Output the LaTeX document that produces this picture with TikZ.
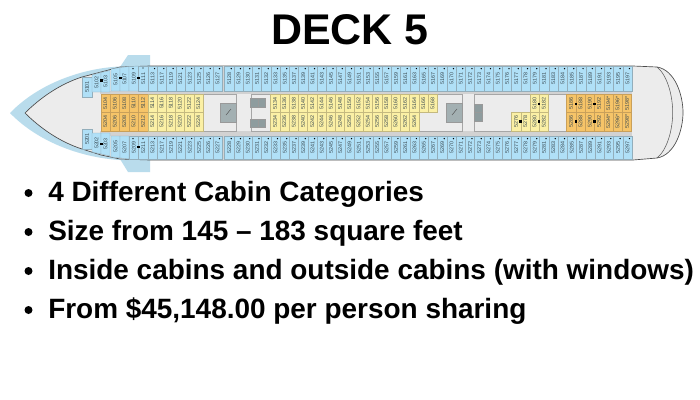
\documentclass[tikz,border=0pt]{standalone}
\usepackage{fontspec}
\setmainfont{Liberation Sans}
\definecolor{cabblue}{HTML}{B0E0F7}
\definecolor{wing}{HTML}{B9DCEC}
\definecolor{floorg}{HTML}{ECECEC}
\definecolor{strip}{HTML}{D2D2D2}
\definecolor{cabyel}{HTML}{FBF0A5}
\definecolor{cabora}{HTML}{F6C468}
\definecolor{edgeb}{HTML}{93AEBB}
\definecolor{edgey}{HTML}{C4B97F}
\definecolor{edgeo}{HTML}{C9A05A}
\definecolor{boxg}{HTML}{A3B0B2}
\definecolor{liftg}{HTML}{8E9C9E}
\definecolor{lbl}{HTML}{3A4A52}
\tikzset{
  cabbase/.style={line width=0.3pt},
  cablabel/.style={font=\fontsize{4}{4}\selectfont,text=lbl,rotate=90,inner sep=0pt},
  bullettext/.style={font=\bfseries\fontsize{20.95}{24}\selectfont,anchor=base west,inner sep=0pt,text=black},
  bulletdot/.style={circle,fill=black,inner sep=0pt,minimum size=6pt},
  wall/.style={draw=gray!70,line width=0.7pt},
  fixture/.style={draw=gray!80,line width=0.5pt,fill=boxg},
  liftbox/.style={draw=gray!80,line width=0.4pt,fill=liftg},
}
% x0 y0 x1 y1 fill edge label
\newcommand{\cabinbox}[7]{%
  \draw[cabbase,fill=#5,draw=#6] (#1,#2) rectangle (#3,#4);
  \node[cablabel] at ({(#1+#3)/2},{(#2+#4)/2}) {#7};}
% x0 x1 ytopL ytopR ybottomL ybottomR label: slanted bow cabin
\newcommand{\bowcabin}[7]{%
  \draw[cabbase,fill=cabblue,draw=edgeb] (#1,#3) -- (#2,#4) -- (#2,#6) -- (#1,#5) -- cycle;
  \node[cablabel] at ({(#1+#2)/2},{(#3+#4+#5+#6)/4}) {#7};}
% x label: full-length hull cabins, top and bottom
\newcommand{\hullpair}[2]{%
  \pgfmathsetmacro{\xb}{#1+9.26}
  \pgfmathtruncatemacro{\la}{5100+#2}
  \pgfmathtruncatemacro{\lb}{5200+#2}
  \cabinbox{#1}{66}{\xb}{91}{cabblue}{edgeb}{\la}
  \cabinbox{#1}{136}{\xb}{159}{cabblue}{edgeb}{\lb}
  \fill ({#1+6.6},68.6) circle (0.55pt);
  \fill ({#1+6.6},138.6) circle (0.55pt);}
\begin{document}
\begin{tikzpicture}[x=0.75pt,y=-0.75pt]
\useasboundingbox (0,0) rectangle (700,400);
\fill[white] (0,0) rectangle (700,400);
\node[font=\bfseries\fontsize{32.2}{36}\selectfont,anchor=base] (title) at (350,44) {DECK 5};
% bridge wings and bow shade
\fill[wing] (120,67) -- (128,55) -- (150,55) -- (150,67) -- cycle;
\fill[wing] (120,159) -- (128,172) -- (150,172) -- (150,159) -- cycle;
\fill[wing] (150,65.5) -- (120,66.5) .. controls (85,68) and (40,82) .. (10,113) .. controls (40,144) and (85,158) .. (120,160) -- (150,160.5) -- cycle;
% hull
\draw[fill=floorg,draw=gray!60!black,line width=0.5pt] (150,66) -- (633,66) -- (657,67) .. controls (675,70) and (683,95) .. (683,112.5) .. controls (683,130) and (675,155) .. (657,158) -- (633,160) -- (150,160) -- (120,159) -- (101,155) -- (82,149) .. controls (60,142) and (40,128) .. (25,113) .. controls (40,98) and (60,84) .. (82,77) -- (101,72) -- (120,67) -- cycle;
\draw[gray!70!black,line width=0.4pt] (657,67) .. controls (667,75) and (672.7,95) .. (672.7,112.5) .. controls (672.7,130) and (667,150) .. (657,158);
% light grey corridors
\fill[strip] (100,91) rectangle (632,94);
\fill[strip] (100,131) rectangle (632,136);
\fill[strip] (222,66) rectangle (224.6,160);
% corridor blocks
\draw[wall,fill=floorg] (203,94) rectangle (236.5,131);
\draw[wall,fill=floorg] (270,94) -- (251,94) -- (251,131) -- (270,131);
\draw[wall,fill=floorg] (437,94) -- (462.5,94) -- (462.5,131) -- (418,131);
\draw[wall,fill=floorg] (566,94) -- (474,94) -- (474,131) -- (566,131);
\draw[fixture] (220,103) rectangle (236.5,122);
\draw[gray!60!black,line width=0.3pt] (226,115) -- (231,109);
\draw[fixture] (446,103) rectangle (462.5,122);
\draw[gray!60!black,line width=0.3pt] (452,115) -- (457,109);
% lifts
\foreach \x in {250.3,257.8} {
  \draw[liftbox] (\x,98.5) rectangle ++(7.5,8.5);
  \draw[liftbox] (\x,119) rectangle ++(7.5,8.5);
}
\draw[liftbox] (474.3,104) rectangle (481.8,112.5);
\draw[liftbox] (474.3,112.5) rectangle (481.8,121);
% bow hull cabins
\cabinbox{82}{77}{92}{97}{cabblue}{edgeb}{5101}
\cabinbox{82}{129}{92}{149}{cabblue}{edgeb}{5201}
\bowcabin{92}{101}{75}{72.5}{92}{92}{5102}
\bowcabin{101}{110}{72.5}{70.5}{92}{92}{5103}
\bowcabin{111}{120}{69}{67.5}{91}{91}{5105}
\bowcabin{120}{129}{67.5}{66.5}{91}{91}{5107}
\bowcabin{129}{138.5}{66.5}{66}{91}{91}{5109}
\bowcabin{138.5}{148}{66}{66}{91}{91}{5111}
\bowcabin{92}{101}{133}{133}{152}{154}{5202}
\bowcabin{101}{110}{133}{133}{154}{156}{5203}
\bowcabin{111}{120}{136}{136}{157}{158}{5205}
\bowcabin{120}{129}{136}{136}{158}{159}{5207}
\bowcabin{129}{138.5}{136}{136}{159}{159}{5209}
\bowcabin{138.5}{148}{136}{136}{159}{159}{5211}
\foreach \p in {(133,68.6),(143,68),(133,138.6),(143,138.6)}
  \fill \p circle (0.55pt);
% hull cabins
\foreach \x/\n [count=\i from 0] in {148/13,157.26/17,166.52/19,175.78/21,185.04/23,194.3/25,203.56/26,212.82/27}
  {\hullpair{\x}{\n}}
\foreach \n [count=\i from 0] in {28,29,30,31,32,33,35,37,39,41,43,45,47,49,51,53,55,57,59,61,63,65,67,69,70,71,72,73,74,75,76,77,78,79,81,83,84,85,87,89,91,93,95,97}
  {\pgfmathsetmacro{\xx}{224.6+\i*9.26}
   \hullpair{\xx}{\n}}
% inner orange and yellow forward
\foreach \n [count=\i from 0] in {04,06,08,10,12}
  {\pgfmathsetmacro{\xa}{100.7+\i*9.4}\pgfmathsetmacro{\xc}{\xa+9.4}
   \cabinbox{\xa}{94}{\xc}{112.5}{cabora}{edgeo}{51\n}
   \cabinbox{\xa}{112.5}{\xc}{131}{cabora}{edgeo}{52\n}}
\foreach \n [count=\i from 0] in {14,16,18,20,22,24}
  {\pgfmathsetmacro{\xa}{147.7+\i*9.2}\pgfmathsetmacro{\xc}{\xa+9.2}
   \cabinbox{\xa}{94}{\xc}{112.5}{cabyel}{edgey}{51\n}
   \cabinbox{\xa}{112.5}{\xc}{131}{cabyel}{edgey}{52\n}}
% inner yellow midship
\foreach \n [count=\i from 0] in {34,36,38,40,42,44,46,48,50,52,54,56,58,60,62,64}
  {\pgfmathsetmacro{\xa}{270.5+\i*9.27}\pgfmathsetmacro{\xc}{\xa+9.27}
   \cabinbox{\xa}{94}{\xc}{112.5}{cabyel}{edgey}{51\n}
   \cabinbox{\xa}{112.5}{\xc}{131}{cabyel}{edgey}{52\n}}
\cabinbox{418.8}{94}{428}{112.5}{cabyel}{edgey}{5166}
\cabinbox{428}{94}{437.2}{112.5}{cabyel}{edgey}{5168}
% aft yellow
\cabinbox{511.5}{112.5}{520.8}{131}{cabyel}{edgey}{5276}
\cabinbox{520.8}{112.5}{530}{131}{cabyel}{edgey}{5278}
\cabinbox{530}{94}{539}{112.5}{cabyel}{edgey}{5180}
\cabinbox{539}{94}{548.5}{112.5}{cabyel}{edgey}{5182}
\cabinbox{530}{112.5}{539}{131}{cabyel}{edgey}{5280}
\cabinbox{539}{112.5}{548.5}{131}{cabyel}{edgey}{5282}
% aft orange
\foreach \n/\m [count=\i from 0] in {86/86,88/88,90/90,92/92,94*/94*,96*/96*,98*/98*}
  {\pgfmathsetmacro{\xa}{566.5+\i*9.3}\pgfmathsetmacro{\xc}{\xa+9.3}
   \cabinbox{\xa}{94}{\xc}{112.5}{cabora}{edgeo}{51\n}
   \cabinbox{\xa}{112.5}{\xc}{131}{cabora}{edgeo}{52\m}}
% connecting door marks
\foreach \p in {(101.7,80.5),(120.3,78),(138.8,78),(101.7,144),(138.5,147),(576,104),(594.7,104),(576,121.7),(594.7,121.7),(520.8,121.7),(539,104),(539,121.7)}
  \fill[black] \p ++(-1.4,-1.4) rectangle ++(2.8,2.8);
% text
\foreach \y/\t [count=\i] in {201/{4 Different Cabin Categories},240/{Size from 145 – 183 square feet},279/{Inside cabins and outside cabins (with windows)},318/{From \$45,148.00 per person sharing}}
  {\node[bulletdot] (dot\i) at (28.5,\y-8) {};
   \node[bullettext] (line\i) at (48,\y) {\t};}
\end{tikzpicture}
\end{document}
